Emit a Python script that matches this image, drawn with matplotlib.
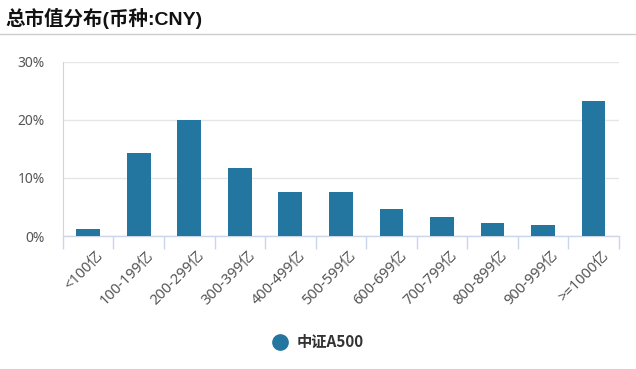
import numpy as np
import matplotlib.pyplot as plt
import matplotlib.transforms as mtransforms
from matplotlib.ticker import FixedLocator, FuncFormatter

plt.rcParams['font.family'] = ['Noto Sans', 'Noto Sans CJK SC', 'DejaVu Sans']

# données
categories = ["<100亿", "100-199亿", "200-299亿", "300-399亿", "400-499亿", "500-599亿",
              "600-699亿", "700-799亿", "800-899亿", "900-999亿", ">=1000亿"]
valeurs = [1.2, 14.3, 20.0, 11.7, 7.6, 7.6, 4.7, 3.3, 2.2, 1.9, 23.3]
serie = "中证A500"
titre = "总市值分布(币种:CNY)"
yticks = [0, 10, 20, 30]

couleur = "#22769f"
axe_col = "#ccd6eb"

fig = plt.figure(figsize=(6.36, 3.69), dpi=100)
ax = fig.add_axes([0.099, 0.3604, 0.874, 0.472])

x = np.arange(len(categories))
ax.bar(x, valeurs, width=0.47, color=couleur, zorder=3)

ax.set_xlim(-0.5, len(categories) - 0.5)
ax.set_ylim(0, 30)
ax.set_yticks(yticks)
ax.yaxis.set_major_formatter(FuncFormatter(lambda v, p: f"{v:.0f}%"))
ax.grid(axis="y", color="#e6e6e6", linewidth=1, zorder=0)

ax.set_xticks(x)
ax.set_xticklabels(categories, rotation=45, ha="right", rotation_mode="anchor")
ax.xaxis.set_minor_locator(FixedLocator(np.arange(-0.5, len(categories), 1.0)))
ax.tick_params(axis="x", which="major", length=0, pad=9, labelsize=10.5, labelcolor="#555555")
ax.tick_params(axis="x", which="minor", length=9, color=axe_col, width=1)
ax.tick_params(axis="y", length=0, pad=13, labelsize=10, labelcolor="#555555")

# décalage des étiquettes vers la droite
decal = mtransforms.ScaledTranslation(8 / 100, 0, fig.dpi_scale_trans)
for lab in ax.get_xticklabels():
    lab.set_transform(lab.get_transform() + decal)

for s in ["top", "right"]:
    ax.spines[s].set_visible(False)
ax.spines["left"].set_color(axe_col)
ax.spines["bottom"].set_color(axe_col)
ax.spines["bottom"].set_linewidth(1)

# titre et séparateur
fig.text(0.008, 0.951, titre, fontsize=14, fontweight="bold", color="#111111", va="center",
         family=['Liberation Sans', 'Noto Sans CJK SC'])
fig.add_artist(plt.Line2D([0, 1], [0.908, 0.908], color="#cccccc", linewidth=1))

# légende
fig.add_artist(plt.Line2D([0.441], [0.073], marker="o", markersize=11, color=couleur, linestyle=""))
fig.text(0.466, 0.073, serie, fontsize=11, fontweight="bold", color="#333333", va="center",
         family=['Noto Sans CJK SC'])

fig.savefig("out.png", dpi=100)
